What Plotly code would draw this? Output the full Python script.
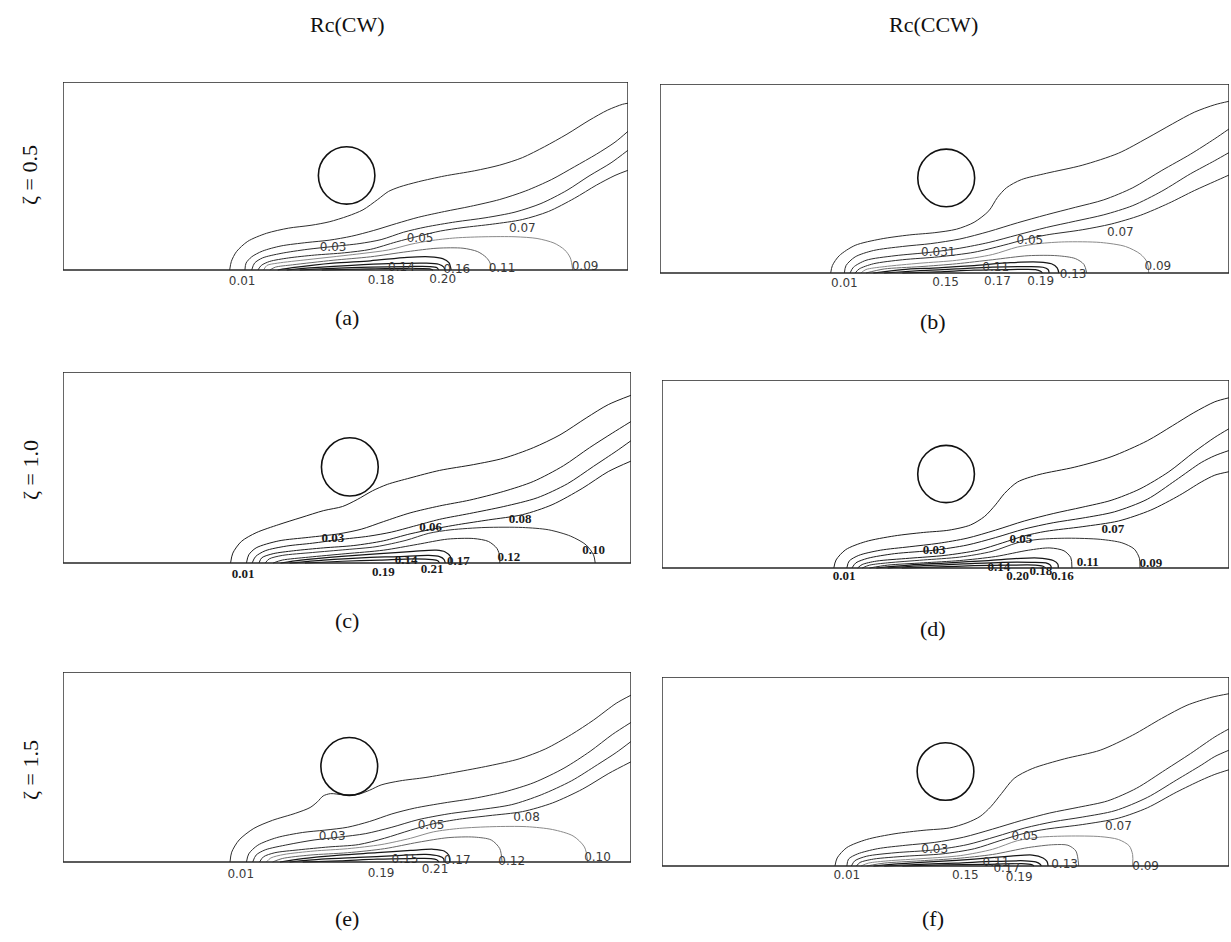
import plotly.graph_objects as go

# ---------------------------------------------------------------------------
# Concentration contours (Rc) behind a rotating cylinder in a channel.
# Coordinates are in cylinder diameters: x along the channel, y above the wall.
# Each panel: four open contours reaching the outlet, then closed wall loops.
# ---------------------------------------------------------------------------

CHANNEL_LENGTH = 10.0
CHANNEL_HEIGHT = 3.28
CYL_RADIUS = 0.5

# cylinder centres (x/D, y/D), panels a-f
CYL_A = (5.02, 1.65)
CYL_B = (5.03, 1.65)
CYL_C = (5.05, 1.65)
CYL_D = (5.01, 1.64)
CYL_E = (5.04, 1.65)
CYL_F = (5.00, 1.64)

# (a) Rc(CW), zeta = 0.5
LINES_A = [
    [(2.95, 0), (2.98, 0.15), (3.07, 0.32), (3.27, 0.50), (3.60, 0.64), (3.99, 0.73), (4.39, 0.78),
     (4.71, 0.84), (5.04, 0.94), (5.31, 1.05), (5.57, 1.23), (5.76, 1.37), (5.96, 1.45), (6.29, 1.54),
     (6.75, 1.64), (7.28, 1.73), (7.73, 1.83), (8.13, 1.96), (8.52, 2.15), (8.92, 2.37), (9.31, 2.61),
     (9.64, 2.79), (9.90, 2.89), (10.0, 2.91)],
    [(3.22, 0), (3.24, 0.12), (3.34, 0.23), (3.53, 0.33), (3.86, 0.42), (4.32, 0.48), (4.71, 0.52),
     (5.11, 0.59), (5.50, 0.69), (5.90, 0.81), (6.29, 0.92), (6.75, 1.02), (7.21, 1.11), (7.73, 1.23),
     (8.19, 1.38), (8.65, 1.58), (9.05, 1.80), (9.44, 2.02), (9.77, 2.23), (10.0, 2.42)],
    [(3.34, 0), (3.39, 0.12), (3.53, 0.21), (3.86, 0.29), (4.32, 0.36), (4.78, 0.41), (5.24, 0.46),
     (5.63, 0.53), (6.03, 0.66), (6.42, 0.75), (6.95, 0.84), (7.47, 0.91), (8.00, 1.01), (8.46, 1.16),
     (8.92, 1.39), (9.31, 1.64), (9.70, 1.87), (10.0, 2.09)],
    [(3.45, 0), (3.51, 0.08), (3.66, 0.15), (3.99, 0.21), (4.45, 0.26), (4.98, 0.30), (5.44, 0.36),
     (5.90, 0.49), (6.29, 0.59), (6.68, 0.68), (7.08, 0.74), (7.60, 0.80), (8.13, 0.88), (8.59, 1.02),
     (9.05, 1.25), (9.44, 1.48), (9.77, 1.65), (10.0, 1.74)],
    [(3.55, 0), (3.61, 0.08), (3.80, 0.12), (4.32, 0.18), (4.78, 0.23), (5.31, 0.29), (5.76, 0.35),
     (6.16, 0.45), (6.49, 0.51), (6.95, 0.56), (7.47, 0.58), (8.00, 0.58), (8.39, 0.55), (8.69, 0.47),
     (8.88, 0.35), (8.98, 0.21), (9.02, 0)],
    [(3.66, 0), (3.76, 0.05), (4.06, 0.09), (4.78, 0.17), (5.44, 0.23), (6.09, 0.32), (6.62, 0.38),
     (7.08, 0.38), (7.34, 0.32), (7.49, 0.22), (7.56, 0.12), (7.57, 0)],
    [(3.80, 0), (4.06, 0.04), (4.78, 0.12), (5.44, 0.16), (6.09, 0.22), (6.49, 0.23), (6.72, 0.20),
     (6.83, 0.13), (6.87, 0)],
    [(3.96, 0), (4.45, 0.04), (5.11, 0.08), (5.76, 0.11), (6.42, 0.12), (6.65, 0.10), (6.74, 0.05), (6.76, 0)],
    [(4.19, 0), (4.78, 0.03), (5.44, 0.05), (6.09, 0.06), (6.49, 0.06), (6.62, 0.04), (6.65, 0)],
    [(4.58, 0), (5.44, 0.02), (6.09, 0.03), (6.49, 0.02), (6.55, 0)],
]
LABELS_A = [(3.17, -0.21, "0.01"), (4.78, 0.39, "0.03"), (6.32, 0.54, "0.05"), (8.13, 0.72, "0.07"),
            (9.24, 0.05, "0.09"), (7.77, 0.02, "0.11"), (5.99, 0.03, "0.14"), (6.97, 0.00, "0.16"),
            (5.63, -0.19, "0.18"), (6.72, -0.18, "0.20")]

# (b) Rc(CCW), zeta = 0.5
LINES_B = [
    [(3.00, 0), (3.03, 0.13), (3.15, 0.30), (3.43, 0.48), (3.88, 0.59), (4.38, 0.66), (4.83, 0.70),
     (5.21, 0.76), (5.52, 0.88), (5.78, 1.08), (5.93, 1.31), (6.09, 1.48), (6.35, 1.62), (6.79, 1.73),
     (7.42, 1.87), (8.06, 2.08), (8.56, 2.34), (9.01, 2.59), (9.39, 2.79), (9.75, 2.92), (10.0, 2.98)],
    [(3.24, 0), (3.27, 0.13), (3.43, 0.28), (3.75, 0.39), (4.26, 0.46), (4.76, 0.51), (5.27, 0.59),
     (5.78, 0.72), (6.28, 0.87), (6.79, 1.01), (7.30, 1.14), (7.80, 1.27), (8.31, 1.48), (8.82, 1.78),
     (9.32, 2.06), (9.75, 2.33), (10.0, 2.50)],
    [(3.34, 0), (3.40, 0.10), (3.62, 0.22), (4.13, 0.30), (4.76, 0.36), (5.27, 0.43), (5.78, 0.53),
     (6.28, 0.66), (6.79, 0.79), (7.30, 0.90), (7.80, 1.01), (8.31, 1.17), (8.82, 1.42), (9.32, 1.72),
     (9.75, 1.95), (10.0, 2.09)],
    [(3.43, 0), (3.50, 0.07), (3.75, 0.16), (4.26, 0.23), (4.89, 0.28), (5.52, 0.36), (6.03, 0.48),
     (6.41, 0.58), (6.79, 0.66), (7.42, 0.75), (7.93, 0.85), (8.44, 1.00), (8.94, 1.21), (9.39, 1.43),
     (9.75, 1.59), (10.0, 1.70)],
    [(3.53, 0), (3.62, 0.06), (3.94, 0.11), (4.57, 0.17), (5.21, 0.22), (5.84, 0.32), (6.28, 0.45),
     (6.66, 0.51), (7.11, 0.54), (7.74, 0.53), (8.18, 0.46), (8.44, 0.33), (8.56, 0.19), (8.59, 0)],
    [(3.62, 0), (3.94, 0.07), (4.57, 0.11), (5.21, 0.16), (5.84, 0.23), (6.47, 0.30), (6.98, 0.30),
     (7.30, 0.25), (7.45, 0.15), (7.50, 0)],
    [(3.75, 0), (4.26, 0.06), (4.89, 0.09), (5.52, 0.13), (6.16, 0.18), (6.66, 0.19), (6.88, 0.16),
     (6.98, 0.09), (7.01, 0)],
    [(3.94, 0), (4.57, 0.04), (5.21, 0.07), (5.84, 0.10), (6.47, 0.11), (6.73, 0.10), (6.82, 0.06), (6.84, 0)],
    [(4.26, 0), (4.89, 0.02), (5.52, 0.05), (6.16, 0.06), (6.60, 0.06), (6.69, 0.03), (6.72, 0)],
]
LABELS_B = [(3.24, -0.19, "0.01"), (4.89, 0.34, "0.031"), (6.50, 0.55, "0.05"), (8.09, 0.69, "0.07"),
            (8.75, 0.11, "0.09"), (5.90, 0.09, "0.11"), (7.26, -0.03, "0.13"), (5.02, -0.17, "0.15"),
            (5.93, -0.16, "0.17"), (6.69, -0.15, "0.19")]

# (c) Rc(CW), zeta = 1.0
LINES_C = [
    [(2.95, 0), (2.99, 0.17), (3.14, 0.37), (3.40, 0.52), (3.80, 0.66), (4.19, 0.78), (4.59, 0.90),
     (4.92, 0.97), (5.18, 1.09), (5.45, 1.24), (5.71, 1.35), (6.11, 1.46), (6.63, 1.59), (7.23, 1.69),
     (7.76, 1.80), (8.28, 1.98), (8.75, 2.20), (9.21, 2.49), (9.60, 2.72), (10.0, 2.88)],
    [(3.23, 0), (3.27, 0.14), (3.40, 0.26), (3.80, 0.38), (4.32, 0.44), (4.85, 0.50), (5.25, 0.58),
     (5.64, 0.71), (6.11, 0.86), (6.63, 0.98), (7.16, 1.08), (7.76, 1.23), (8.28, 1.40), (8.81, 1.67),
     (9.27, 1.98), (9.67, 2.23), (10.0, 2.43)],
    [(3.33, 0), (3.39, 0.11), (3.56, 0.21), (3.93, 0.29), (4.39, 0.34), (4.85, 0.40), (5.38, 0.46),
     (5.78, 0.53), (6.17, 0.63), (6.63, 0.75), (7.16, 0.85), (7.76, 0.97), (8.35, 1.12), (8.88, 1.36),
     (9.34, 1.66), (9.74, 1.92), (10.0, 2.10)],
    [(3.45, 0), (3.50, 0.09), (3.70, 0.16), (4.06, 0.21), (4.59, 0.26), (5.12, 0.30), (5.64, 0.38),
     (6.11, 0.50), (6.50, 0.58), (6.96, 0.66), (7.49, 0.74), (8.09, 0.83), (8.61, 1.00), (9.14, 1.28),
     (9.60, 1.57), (10.0, 1.75)],
    [(3.56, 0), (3.63, 0.07), (3.86, 0.13), (4.39, 0.18), (4.98, 0.23), (5.51, 0.28), (6.04, 0.39),
     (6.44, 0.51), (6.83, 0.57), (7.43, 0.61), (8.09, 0.61), (8.55, 0.57), (8.94, 0.46), (9.21, 0.31),
     (9.34, 0.14), (9.37, 0)],
    [(3.70, 0), (3.86, 0.05), (4.32, 0.10), (4.98, 0.16), (5.64, 0.22), (6.24, 0.32), (6.77, 0.41),
     (7.23, 0.42), (7.49, 0.37), (7.64, 0.25), (7.69, 0.11), (7.69, 0)],
    [(3.83, 0), (4.19, 0.05), (4.85, 0.11), (5.58, 0.16), (6.17, 0.20), (6.57, 0.22), (6.73, 0.19),
     (6.82, 0.11), (6.83, 0)],
    [(3.99, 0), (4.59, 0.05), (5.25, 0.09), (5.91, 0.11), (6.44, 0.13), (6.63, 0.11), (6.71, 0.06), (6.73, 0)],
    [(4.26, 0), (4.92, 0.03), (5.58, 0.05), (6.17, 0.07), (6.50, 0.06), (6.60, 0.04), (6.63, 0)],
]
LABELS_C = [(3.17, -0.20, "0.01"), (4.75, 0.42, "0.03"), (6.47, 0.60, "0.06"), (8.05, 0.74, "0.08"),
            (9.34, 0.21, "0.10"), (7.85, 0.09, "0.12"), (6.04, 0.04, "0.14"), (6.96, 0.02, "0.17"),
            (5.64, -0.17, "0.19"), (6.50, -0.12, "0.21")]

# (d) Rc(CCW), zeta = 1.0
LINES_D = [
    [(3.03, 0), (3.07, 0.14), (3.24, 0.32), (3.59, 0.46), (4.10, 0.56), (4.61, 0.62), (5.06, 0.66),
     (5.44, 0.75), (5.69, 0.90), (5.88, 1.10), (6.04, 1.30), (6.27, 1.50), (6.65, 1.63), (7.28, 1.76),
     (7.92, 1.94), (8.56, 2.22), (9.00, 2.48), (9.38, 2.71), (9.75, 2.90), (10.0, 2.97)],
    [(3.26, 0), (3.30, 0.12), (3.47, 0.22), (3.85, 0.31), (4.36, 0.37), (4.87, 0.43), (5.38, 0.52),
     (5.88, 0.66), (6.39, 0.82), (6.90, 0.95), (7.41, 1.06), (7.92, 1.18), (8.43, 1.38), (8.94, 1.68),
     (9.38, 2.02), (9.75, 2.28), (10.0, 2.43)],
    [(3.35, 0), (3.42, 0.09), (3.63, 0.17), (4.10, 0.25), (4.80, 0.31), (5.38, 0.40), (5.88, 0.53),
     (6.39, 0.68), (6.90, 0.79), (7.41, 0.87), (7.98, 0.98), (8.56, 1.20), (9.06, 1.53), (9.51, 1.84),
     (9.75, 1.96), (10.0, 2.05)],
    [(3.45, 0), (3.53, 0.06), (3.78, 0.12), (4.36, 0.17), (4.99, 0.22), (5.57, 0.31), (6.01, 0.44),
     (6.39, 0.56), (6.77, 0.64), (7.41, 0.72), (8.05, 0.82), (8.62, 1.01), (9.13, 1.27), (9.51, 1.50),
     (9.75, 1.62), (10.0, 1.68)],
    [(3.53, 0), (3.66, 0.05), (3.98, 0.09), (4.61, 0.14), (5.25, 0.19), (5.82, 0.29), (6.27, 0.44),
     (6.65, 0.50), (7.16, 0.52), (7.73, 0.50), (8.11, 0.44), (8.33, 0.33), (8.42, 0.17), (8.43, 0)],
    [(3.66, 0), (3.98, 0.05), (4.61, 0.09), (5.25, 0.13), (5.88, 0.20), (6.46, 0.31), (6.84, 0.35),
     (7.09, 0.30), (7.21, 0.18), (7.23, 0)],
    [(3.78, 0), (4.36, 0.05), (5.06, 0.09), (5.76, 0.13), (6.33, 0.17), (6.71, 0.17), (6.90, 0.13),
     (6.98, 0.07), (6.99, 0)],
    [(3.98, 0), (4.61, 0.04), (5.31, 0.07), (6.01, 0.10), (6.52, 0.10), (6.77, 0.09), (6.85, 0.05), (6.87, 0)],
    [(4.23, 0), (4.87, 0.02), (5.50, 0.04), (6.14, 0.05), (6.58, 0.05), (6.72, 0.03), (6.77, 0)],
]
LABELS_D = [(3.21, -0.16, "0.01"), (4.80, 0.30, "0.03"), (6.33, 0.50, "0.05"), (7.95, 0.66, "0.07"),
            (8.62, 0.07, "0.09"), (7.51, 0.10, "0.11"), (5.94, 0.01, "0.14"), (6.27, -0.15, "0.20"),
            (6.68, -0.07, "0.18"), (7.06, -0.15, "0.16")]

# (e) Rc(CW), zeta = 1.5
LINES_E = [
    [(2.94, 0), (2.97, 0.17), (3.10, 0.38), (3.36, 0.58), (3.69, 0.72), (4.09, 0.84), (4.35, 0.94),
     (4.48, 1.04), (4.58, 1.14), (4.71, 1.18), (4.94, 1.16), (5.20, 1.17), (5.40, 1.24), (5.60, 1.33),
     (5.93, 1.40), (6.39, 1.46), (6.91, 1.55), (7.50, 1.66), (8.03, 1.78), (8.49, 1.95), (8.95, 2.20),
     (9.34, 2.45), (9.74, 2.74), (10.0, 2.88)],
    [(3.23, 0), (3.27, 0.14), (3.43, 0.29), (3.76, 0.42), (4.22, 0.51), (4.61, 0.55), (5.01, 0.60),
     (5.40, 0.70), (5.79, 0.83), (6.19, 0.93), (6.71, 1.02), (7.24, 1.10), (7.77, 1.21), (8.29, 1.37),
     (8.82, 1.62), (9.28, 1.91), (9.67, 2.20), (10.0, 2.41)],
    [(3.34, 0), (3.40, 0.12), (3.56, 0.21), (3.96, 0.30), (4.42, 0.38), (4.87, 0.43), (5.33, 0.49),
     (5.79, 0.60), (6.25, 0.73), (6.78, 0.83), (7.31, 0.90), (7.90, 0.99), (8.42, 1.16), (8.95, 1.40),
     (9.41, 1.68), (9.74, 1.89), (10.0, 2.08)],
    [(3.46, 0), (3.53, 0.09), (3.73, 0.16), (4.15, 0.21), (4.68, 0.26), (5.20, 0.30), (5.66, 0.41),
     (6.12, 0.55), (6.52, 0.66), (6.98, 0.74), (7.50, 0.80), (8.09, 0.87), (8.62, 1.02), (9.15, 1.26),
     (9.61, 1.53), (10.0, 1.73)],
    [(3.58, 0), (3.66, 0.07), (3.89, 0.13), (4.42, 0.19), (5.01, 0.23), (5.60, 0.30), (6.12, 0.41),
     (6.52, 0.52), (6.98, 0.58), (7.57, 0.61), (8.16, 0.61), (8.62, 0.56), (8.98, 0.45), (9.18, 0.26),
     (9.24, 0)],
    [(3.69, 0), (3.86, 0.06), (4.35, 0.12), (5.01, 0.16), (5.66, 0.23), (6.25, 0.34), (6.78, 0.42),
     (7.24, 0.43), (7.54, 0.38), (7.69, 0.23), (7.73, 0)],
    [(3.82, 0), (4.22, 0.06), (4.87, 0.12), (5.53, 0.16), (6.12, 0.20), (6.52, 0.22), (6.71, 0.19),
     (6.79, 0.12), (6.81, 0)],
    [(3.99, 0), (4.55, 0.05), (5.20, 0.08), (5.86, 0.11), (6.39, 0.13), (6.62, 0.10), (6.70, 0.06), (6.71, 0)],
    [(4.22, 0), (4.87, 0.02), (5.53, 0.05), (6.12, 0.06), (6.48, 0.06), (6.58, 0.04), (6.62, 0)],
]
LABELS_E = [(3.13, -0.22, "0.01"), (4.74, 0.43, "0.03"), (6.48, 0.62, "0.05"), (8.16, 0.76, "0.08"),
            (9.41, 0.07, "0.10"), (7.90, 0.00, "0.12"), (6.02, 0.04, "0.15"), (6.94, 0.01, "0.17"),
            (5.60, -0.20, "0.19"), (6.55, -0.14, "0.21")]

# (f) Rc(CCW), zeta = 1.5
LINES_F = [
    [(3.05, 0), (3.09, 0.14), (3.26, 0.32), (3.61, 0.46), (4.11, 0.56), (4.62, 0.62), (5.07, 0.66),
     (5.38, 0.75), (5.61, 0.86), (5.80, 1.03), (5.99, 1.26), (6.21, 1.52), (6.53, 1.69), (7.10, 1.86),
     (7.73, 2.01), (8.30, 2.27), (8.81, 2.56), (9.26, 2.79), (9.70, 2.93), (10.0, 2.99)],
    [(3.26, 0), (3.29, 0.12), (3.45, 0.21), (3.80, 0.30), (4.30, 0.36), (4.81, 0.41), (5.32, 0.50),
     (5.83, 0.64), (6.34, 0.79), (6.84, 0.92), (7.35, 1.02), (7.86, 1.13), (8.37, 1.35), (8.88, 1.67),
     (9.32, 1.95), (9.75, 2.24), (10.0, 2.38)],
    [(3.34, 0), (3.40, 0.09), (3.61, 0.17), (4.11, 0.23), (4.81, 0.28), (5.38, 0.37), (5.89, 0.51),
     (6.40, 0.66), (6.91, 0.77), (7.42, 0.85), (7.99, 0.96), (8.56, 1.19), (9.07, 1.49), (9.51, 1.75),
     (9.75, 1.90), (10.0, 2.01)],
    [(3.43, 0), (3.49, 0.06), (3.73, 0.12), (4.30, 0.17), (4.94, 0.21), (5.51, 0.30), (5.96, 0.44),
     (6.40, 0.57), (6.78, 0.64), (7.42, 0.72), (8.05, 0.83), (8.56, 1.01), (9.07, 1.28), (9.51, 1.49),
     (9.75, 1.59), (10.0, 1.67)],
    [(3.51, 0), (3.64, 0.05), (3.99, 0.09), (4.62, 0.13), (5.26, 0.18), (5.83, 0.29), (6.27, 0.44),
     (6.66, 0.50), (7.16, 0.52), (7.73, 0.51), (8.05, 0.46), (8.24, 0.35), (8.30, 0.20), (8.30, 0)],
    [(3.61, 0), (3.92, 0.05), (4.56, 0.09), (5.19, 0.13), (5.83, 0.20), (6.46, 0.32), (6.91, 0.37),
     (7.16, 0.36), (7.30, 0.26), (7.35, 0)],
    [(3.73, 0), (4.24, 0.04), (4.88, 0.08), (5.51, 0.12), (6.15, 0.17), (6.53, 0.19), (6.72, 0.14),
     (6.79, 0.08), (6.81, 0)],
    [(3.92, 0), (4.56, 0.03), (5.19, 0.05), (5.83, 0.08), (6.40, 0.09), (6.59, 0.07), (6.67, 0.03), (6.69, 0)],
    [(4.24, 0), (5.00, 0.02), (5.70, 0.03), (6.34, 0.04), (6.53, 0.02), (6.56, 0)],
]
LABELS_F = [(3.26, -0.17, "0.01"), (4.81, 0.27, "0.03"), (6.40, 0.50, "0.05"), (8.05, 0.67, "0.07"),
            (8.53, -0.01, "0.09"), (5.89, 0.05, "0.11"), (7.10, 0.02, "0.13"), (5.35, -0.17, "0.15"),
            (6.08, -0.06, "0.17"), (6.30, -0.20, "0.19")]

COLUMN_TITLES = ["Rc(CW)", "Rc(CCW)"]
ROW_TITLES = ["ζ = 0.5", "ζ = 1.0", "ζ = 1.5"]
PANEL_TAGS = ["(a)", "(b)", "(c)", "(d)", "(e)", "(f)"]

# ---------------------------------------------------------------------------
# Layout (pixel boxes of each panel frame: left, top, right, bottom)
# ---------------------------------------------------------------------------
W, H = 1231, 942
SERIF = "Liberation Serif, Times New Roman, serif"
SANS = "DejaVu Sans, Verdana, sans-serif"
Y_BELOW = 0.40  # room under the wall for the contour labels that sit below it

panels = [
    dict(lines=LINES_A, labels=LABELS_A, cyl=CYL_A, box=(63, 82, 628, 270), style="sans"),
    dict(lines=LINES_B, labels=LABELS_B, cyl=CYL_B, box=(660, 84, 1229, 273), style="sans"),
    dict(lines=LINES_C, labels=LABELS_C, cyl=CYL_C, box=(63, 372, 631, 563), style="serif"),
    dict(lines=LINES_D, labels=LABELS_D, cyl=CYL_D, box=(662, 380, 1229, 568), style="serif"),
    dict(lines=LINES_E, labels=LABELS_E, cyl=CYL_E, box=(63, 672, 631, 862), style="sans"),
    dict(lines=LINES_F, labels=LABELS_F, cyl=CYL_F, box=(662, 677, 1229, 866), style="sans"),
]


def curve_style(idx, style):
    """Outer contours thin dark, the large wall loops grey, the inner loops heavier."""
    if idx < 4:
        return dict(color="#2e2e2e" if style == "sans" else "#1e1e1e", width=1.0)
    if idx == 4:
        return dict(color="#8a8a8a" if style == "sans" else "#333333", width=1.0)
    if idx == 5:
        return dict(color="#666666" if style == "sans" else "#2a2a2a", width=1.0)
    return dict(color="#161616", width=1.25)


fig = go.Figure()
layout = dict(
    width=W, height=H,
    margin=dict(l=0, r=0, t=0, b=0),
    paper_bgcolor="white", plot_bgcolor="rgba(0,0,0,0)",
    showlegend=False,
    shapes=[], annotations=[],
)

for i, p in enumerate(panels):
    n = "" if i == 0 else str(i + 1)
    xa, ya = "x" + n, "y" + n
    left, top, right, bottom = p["box"]
    px_per_unit = (bottom - top) / CHANNEL_HEIGHT
    plot_bottom = bottom + Y_BELOW * px_per_unit
    axis_common = dict(showgrid=False, zeroline=False, showticklabels=False, ticks="",
                       showline=False, fixedrange=True)
    layout["xaxis" + n] = dict(axis_common, range=[0, CHANNEL_LENGTH],
                               domain=[left / W, right / W], anchor=ya)
    layout["yaxis" + n] = dict(axis_common, range=[-Y_BELOW, CHANNEL_HEIGHT],
                               domain=[1 - plot_bottom / H, 1 - top / H], anchor=xa)

    # channel walls
    layout["shapes"].append(dict(
        type="rect", xref=xa, yref=ya, x0=0, x1=CHANNEL_LENGTH, y0=0, y1=CHANNEL_HEIGHT,
        line=dict(color="#262626", width=1.4), fillcolor="rgba(0,0,0,0)", layer="above",
    ))

    for k, curve in enumerate(p["lines"]):
        fig.add_trace(go.Scatter(
            x=[pt[0] for pt in curve], y=[pt[1] for pt in curve],
            mode="lines", line=dict(shape="spline", smoothing=0.8, **curve_style(k, p["style"])),
            xaxis=xa, yaxis=ya, hoverinfo="skip",
        ))

    if p["style"] == "serif":
        tfont = dict(family=SERIF, size=13, color="#1a1a1a", weight="bold")
    else:
        tfont = dict(family=SANS, size=12, color="#3a3a3a")
    fig.add_trace(go.Scatter(
        x=[lb[0] for lb in p["labels"]], y=[lb[1] for lb in p["labels"]],
        text=[lb[2] for lb in p["labels"]], mode="text", textposition="middle center",
        textfont=tfont, xaxis=xa, yaxis=ya, hoverinfo="skip", cliponaxis=False,
    ))

    cx, cy = p["cyl"]
    layout["shapes"].append(dict(
        type="circle", xref=xa, yref=ya,
        x0=cx - CYL_RADIUS, x1=cx + CYL_RADIUS, y0=cy - CYL_RADIUS, y1=cy + CYL_RADIUS,
        line=dict(color="#111111", width=1.6), fillcolor="rgba(0,0,0,0)",
    ))


def paper_text(text, px, py, size, angle=0):
    return dict(text=text, x=px / W, y=1 - py / H, xref="paper", yref="paper",
                xanchor="center", yanchor="middle", showarrow=False, textangle=angle,
                font=dict(family=SERIF, size=size, color="#111111"))


for title, px in zip(COLUMN_TITLES, [347, 933]):
    layout["annotations"].append(paper_text(title, px, 25, 22))
for title, py in zip(ROW_TITLES, [175, 470, 770]):
    layout["annotations"].append(paper_text(title, 30, py, 22, angle=-90))
for tag, (px, py) in zip(PANEL_TAGS, [(347, 318), (933, 322), (347, 620),
                                      (933, 628), (347, 918), (933, 918)]):
    layout["annotations"].append(paper_text(tag, px, py, 22))

fig.update_layout(**layout)
fig.write_html("out.html")
